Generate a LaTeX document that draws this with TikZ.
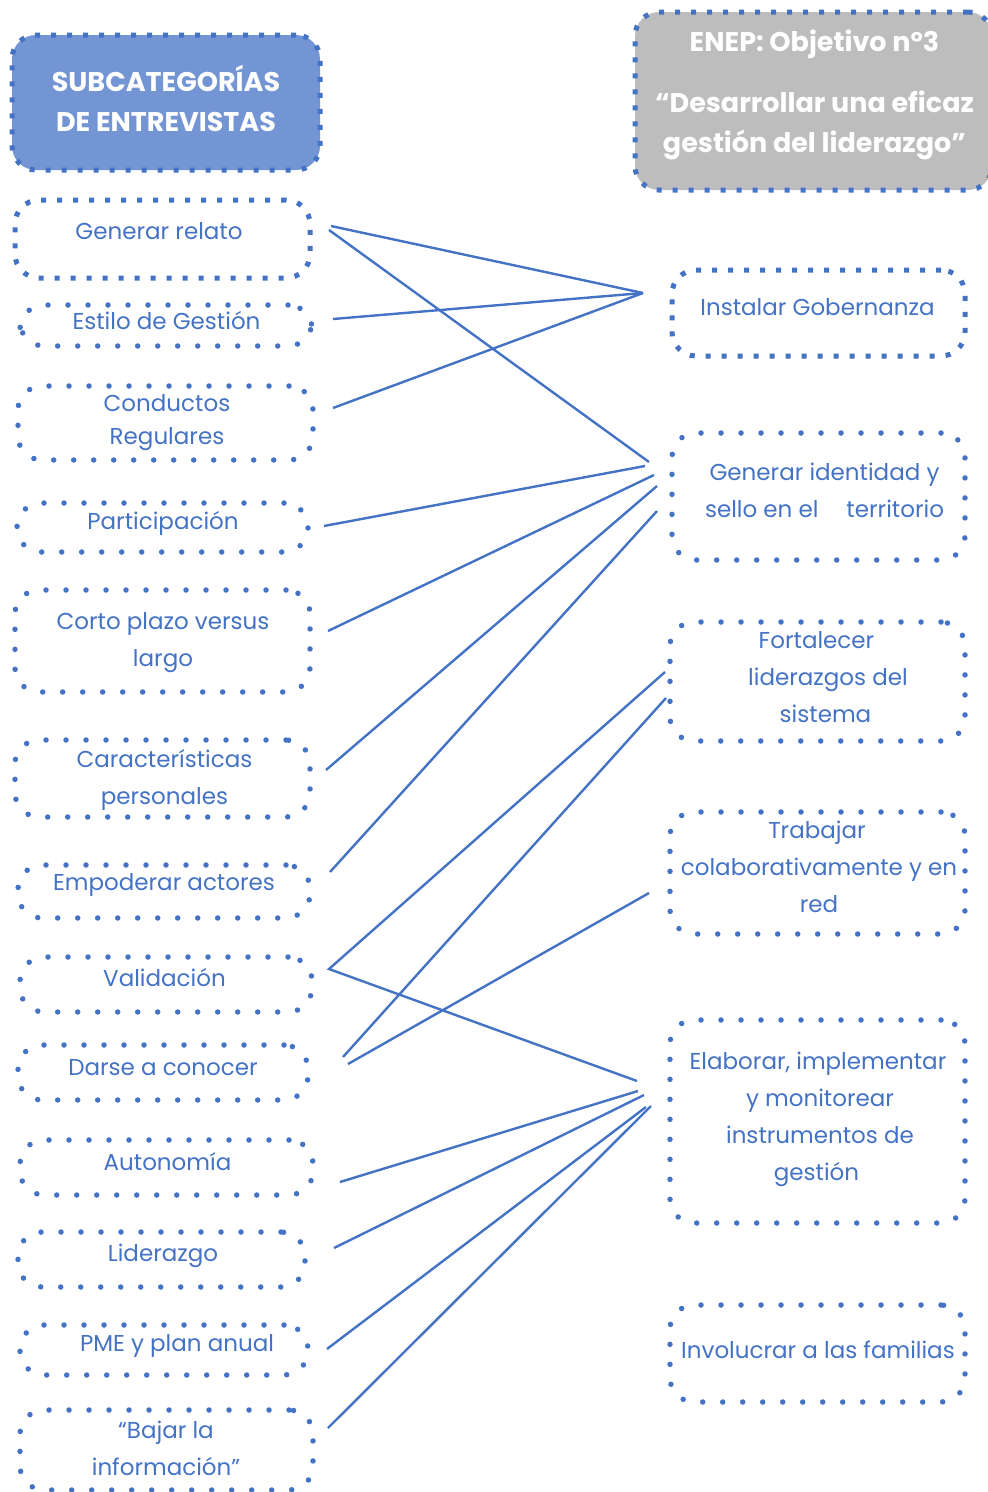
\documentclass[tikz,border=0pt]{standalone}
\usepackage{fontspec}
\setmainfont{Poppins}
\definecolor{ublue}{HTML}{4472C4}
\definecolor{hblue}{HTML}{7395D3}
\definecolor{hgray}{HTML}{BDBDBD}
\tikzset{
  rbox/.style={draw=ublue, line width=5.5pt, dash pattern=on 0pt off 20pt, line cap=round,
    rounded corners=24pt, inner sep=0pt, rectangle},
  sbox/.style={rbox, line cap=butt, line width=5pt, dash pattern=on 5pt off 11pt},
  txt/.style={text=ublue, font=\fontsize{23}{37}\selectfont, align=center, inner sep=0pt},
  htxt/.style={text=white, font=\fontsize{27}{40}\selectfont\bfseries, align=center, inner sep=0pt},
  link/.style={draw=ublue, line width=2.4pt},
}
\begin{document}
\begin{tikzpicture}[x=1pt,y=-1pt]
\useasboundingbox (0,0) rectangle (988,1492);
% headers
\node[sbox, fill=hblue, minimum width=308pt, minimum height=135pt] (lh) at (166,102.5) {};
\node[htxt] (lht) at (166,98) {SUBCATEGORÍAS\\DE ENTREVISTAS};
\node[sbox, fill=hgray, minimum width=357pt, minimum height=178pt] (rh) at (813.5,101) {};
\node[htxt] (rht1) at (814.5,44) {ENEP: Objetivo nº3};
\node[htxt] (rht2) at (814.5,125) {“Desarrollar una eficaz\\gestión del liderazgo”};
% left boxes
\node[sbox, minimum width=295pt, minimum height=78pt] (gr) at (162.5,239) {};
\node[txt] (grt) at (159,231) {Generar relato};
\node[rbox, minimum width=292pt, minimum height=41pt] (eg) at (166,325.5) {};
\node[txt] (egt) at (166.5,321) {Estilo de Gestión};
\node[rbox, minimum width=295pt, minimum height=74pt] (cr) at (165.5,423) {};
\node[txt] (crt) at (167,423) {Conductos\\[-4pt]Regulares};
\node[rbox, minimum width=291pt, minimum height=49pt] (pa) at (162.5,527.5) {};
\node[txt] (pat) at (163,523) {Participación};
\node[rbox, minimum width=295pt, minimum height=102pt] (cp) at (162.5,641) {};
\node[txt] (cpt) at (163,642.5) {Corto plazo versus\\largo};
\node[rbox, minimum width=295pt, minimum height=77pt] (ca) at (162.5,778.5) {};
\node[txt] (cat) at (164.5,780) {Características\\personales};
\node[rbox, minimum width=292pt, minimum height=53pt] (em) at (164,891.5) {};
\node[txt] (emt) at (164,884.5) {Empoderar actores};
\node[rbox, minimum width=292pt, minimum height=55pt] (va) at (166,984.5) {};
\node[txt] (vat) at (164.5,977.5) {Validación};
\node[rbox, minimum width=290pt, minimum height=55pt] (dc) at (163,1072.5) {};
\node[txt] (dct) at (163,1068) {Darse a conocer};
\node[rbox, minimum width=293pt, minimum height=55pt] (au) at (166.5,1167.5) {};
\node[txt] (aut) at (167.5,1162) {Autonomía};
\node[rbox, minimum width=287pt, minimum height=55pt] (li) at (161.5,1259.5) {};
\node[txt] (lit) at (163,1255.5) {Liderazgo};
\node[rbox, minimum width=288pt, minimum height=50pt] (pm) at (164,1350) {};
\node[txt] (pmt) at (177,1345.5) {PME y plan anual};
\node[rbox, minimum width=293pt, minimum height=80pt] (bi) at (166.5,1450) {};
\node[txt] (bit) at (166,1448) {“Bajar la\\información”};
% right boxes
\node[sbox, minimum width=293pt, minimum height=86pt] (ig) at (818.5,313) {};
\node[txt] (igt) at (817.5,307) {Instalar Gobernanza};
\node[rbox, minimum width=293pt, minimum height=127pt] (gi) at (818.5,496.5) {};
\node[txt] (git) at (824.5,490.5) {Generar identidad y\\sello en el\hspace{28pt}territorio};
\node[rbox, minimum width=295pt, minimum height=119pt] (fo) at (817.5,681.5) {};
\node[txt] (fot) at (828,677) {Fortalecer\hspace*{23pt}\\liderazgos del\\sistema\hspace*{5pt}};
\node[rbox, minimum width=295pt, minimum height=122pt] (tr) at (817.5,873) {};
\node[txt] (trt) at (819,867) {Trabajar\hspace*{4pt}\\colaborativamente y en\\red};
\node[rbox, minimum width=295pt, minimum height=203pt] (el) at (817.5,1121.5) {};
\node[txt] (elt) at (820,1119) {Elaborar, implementar\hspace*{4pt}\\y monitorear\hspace*{-5pt}\\instrumentos de\\gestión\hspace*{7pt}};
\node[rbox, minimum width=295pt, minimum height=97pt] (in) at (817.5,1353.5) {};
\node[txt] (int) at (818,1350) {Involucrar a las familias};
% connector ends
\coordinate (gr1) at (331,226); \coordinate (gr2) at (329,230);
\coordinate (eg1) at (333,319); \coordinate (cr1) at (333,408);
\coordinate (pa1) at (324,526); \coordinate (cp1) at (328,631);
\coordinate (ca1) at (326,770); \coordinate (em1) at (330,872);
\coordinate (va1) at (329,969); \coordinate (dc1) at (343,1057);
\coordinate (dc2) at (348,1064); \coordinate (au1) at (340,1182);
\coordinate (li1) at (334,1248); \coordinate (pm1) at (327,1349);
\coordinate (bi1) at (328,1428);
\coordinate (ig1) at (643,293);
\coordinate (gi1) at (649,462); \coordinate (gi2) at (645,466);
\coordinate (gi3) at (654,475); \coordinate (gi4) at (657,486);
\coordinate (gi5) at (657,511);
\coordinate (fo1) at (665,672); \coordinate (fo2) at (666,698);
\coordinate (tr1) at (649,893);
\coordinate (el1) at (637,1081); \coordinate (el2) at (638,1091);
\coordinate (el3) at (644,1095); \coordinate (el4) at (646,1107);
\coordinate (el5) at (651,1106);
% connectors
\draw[link] (gr1) -- (ig1);
\draw[link] (gr2) -- (gi1);
\draw[link] (eg1) -- (ig1);
\draw[link] (cr1) -- (ig1);
\draw[link] (pa1) -- (gi2);
\draw[link] (cp1) -- (gi3);
\draw[link] (ca1) -- (gi4);
\draw[link] (em1) -- (gi5);
\draw[link] (fo1) -- (va1) -- (el1);
\draw[link] (dc1) -- (fo2);
\draw[link] (dc2) -- (tr1);
\draw[link] (au1) -- (el2);
\draw[link] (li1) -- (el3);
\draw[link] (pm1) -- (el4);
\draw[link] (bi1) -- (el5);
\end{tikzpicture}
\end{document}
